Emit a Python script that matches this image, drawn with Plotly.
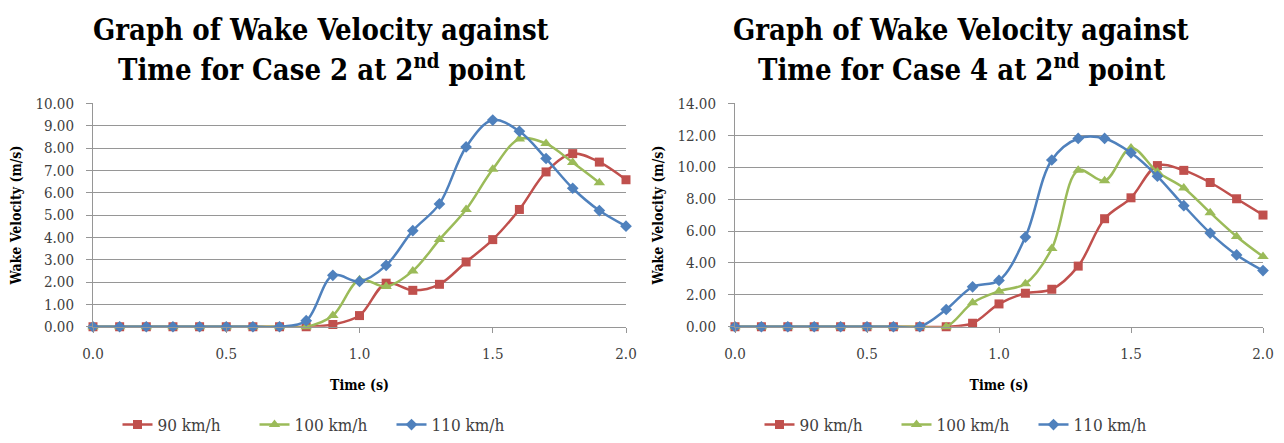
import plotly.graph_objects as go

time = [round(0.1 * i, 1) for i in range(21)]
time_g = time[:20]

# Case 2 (left)
c2_90 = [0, 0, 0, 0, 0, 0, 0, 0, 0, 0.1, 0.5, 1.95, 1.63, 1.9, 2.9, 3.9, 5.25, 6.93, 7.75, 7.37, 6.58]
c2_100 = [0, 0, 0, 0, 0, 0, 0, 0, 0, 0.5, 2.1, 1.8, 2.5, 3.9, 5.25, 7.05, 8.4, 8.2, 7.35, 6.45]
c2_110 = [0, 0, 0, 0, 0, 0, 0, 0, 0.27, 2.3, 2.03, 2.75, 4.3, 5.5, 8.05, 9.25, 8.75, 7.53, 6.2, 5.2, 4.5]

# Case 4 (right)
c4_90 = [0, 0, 0, 0, 0, 0, 0, 0, 0, 0.22, 1.43, 2.1, 2.35, 3.8, 6.77, 8.08, 10.1, 9.8, 9.04, 8.02, 7.0]
c4_100 = [0, 0, 0, 0, 0, 0, 0, 0, 0, 1.5, 2.23, 2.7, 4.9, 9.8, 9.15, 11.2, 9.7, 8.7, 7.15, 5.66, 4.4]
c4_110 = [0, 0, 0, 0, 0, 0, 0, 0, 1.08, 2.5, 2.9, 5.62, 10.45, 11.8, 11.8, 10.9, 9.43, 7.59, 5.87, 4.5, 3.52]

names = ["90 km/h", "100 km/h", "110 km/h"]
colors = ["#C0504D", "#9BBB59", "#4F81BD"]
symbols = ["square", "triangle-up", "diamond"]
msizes = [9, 10, 9]

FONT = "DejaVu Serif Condensed, DejaVu Serif"

fig = go.Figure()

def add(xs, ys, i, xa, ya, leg):
    fig.add_trace(go.Scatter(
        x=xs, y=ys, name=names[i], mode="lines+markers",
        line=dict(color=colors[i], width=2.5, shape="spline", smoothing=1.0),
        marker=dict(symbol=symbols[i], size=msizes[i], color=colors[i]),
        xaxis=xa, yaxis=ya, legend=leg, cliponaxis=False,
    ))

add(time, c2_90, 0, "x", "y", "legend")
add(time_g, c2_100, 1, "x", "y", "legend")
add(time, c2_110, 2, "x", "y", "legend")
add(time, c4_90, 0, "x2", "y2", "legend2")
add(time, c4_100, 1, "x2", "y2", "legend2")
add(time, c4_110, 2, "x2", "y2", "legend2")

W = 1284
H = 443

def px(x):
    return x / W

def py(y):
    return 1 - y / H

ydom = [py(332), py(105)]
xdom1 = [px(93), px(626)]
xdom2 = [px(735), px(1263)]

tickfont = dict(family=FONT, size=15, color="#404040")
titlefont = dict(family=FONT, size=14, color="#000000")
gridc = "#969696"

def xaxis(dom, anchor):
    return dict(domain=dom, anchor=anchor, range=[0, 2], tickmode="linear", tick0=0, dtick=0.5,
                tickformat=".1f", showgrid=False, showline=True, linecolor=gridc, linewidth=1,
                ticks="outside", ticklen=5, tickcolor=gridc, tickfont=tickfont, zeroline=False,
                automargin=False, ticklabelstandoff=8,
                title=dict(text="<b>Time (s)</b>", font=titlefont, standoff=18))

def yaxis(dom, anchor, top, dt):
    return dict(domain=dom, anchor=anchor, range=[0, top], tickmode="linear", tick0=0, dtick=dt,
                tickformat=".2f", showgrid=True, gridcolor=gridc, gridwidth=1, showline=True,
                linecolor=gridc, linewidth=1, zeroline=False, tickfont=tickfont,
                ticks="outside", ticklen=6, tickcolor=gridc, ticklabelstandoff=9,
                automargin=False,
                title=dict(text="<b>Wake Velocity (m/s)</b>", font=titlefont, standoff=10))

legfont = dict(family=FONT, size=17, color="#404040")

fig.update_layout(
    width=W, height=H,
    margin=dict(l=0, r=0, t=0, b=0),
    paper_bgcolor="white", plot_bgcolor="white",
    xaxis=xaxis(xdom1, "y"), yaxis=yaxis(ydom, "x", 10, 1),
    xaxis2=xaxis(xdom2, "y2"), yaxis2=yaxis(ydom, "x2", 14, 2),
    legend=dict(orientation="h", x=px(323), xanchor="center",
                y=py(432), yanchor="middle", font=legfont, itemwidth=30,
                entrywidth=92, bgcolor="rgba(0,0,0,0)"),
    legend2=dict(orientation="h", x=px(965), xanchor="center",
                 y=py(432), yanchor="middle", font=legfont, itemwidth=30,
                 entrywidth=92, bgcolor="rgba(0,0,0,0)"),
    showlegend=True,
)

tfont = dict(family=FONT, size=29, color="#000000")
titles = [
    (321, "Graph of Wake Velocity against", "Time for Case 2 at 2<sup>nd</sup> point"),
    (961, "Graph of Wake Velocity against", "Time for Case 4 at 2<sup>nd</sup> point"),
]
for cx, l1, l2 in titles:
    fig.add_annotation(text="<b>" + l1 + "</b>", xref="paper", yref="paper",
                       x=px(cx), y=py(30), xanchor="center", yanchor="middle",
                       showarrow=False, font=tfont)
    fig.add_annotation(text="<b>" + l2 + "</b>", xref="paper", yref="paper",
                       x=px(cx), y=py(69), xanchor="center", yanchor="middle",
                       showarrow=False, font=tfont)

fig.write_html("out.html", config={"displayModeBar": False},
               post_script="document.body.style.margin='0';document.body.style.overflow='hidden';")
